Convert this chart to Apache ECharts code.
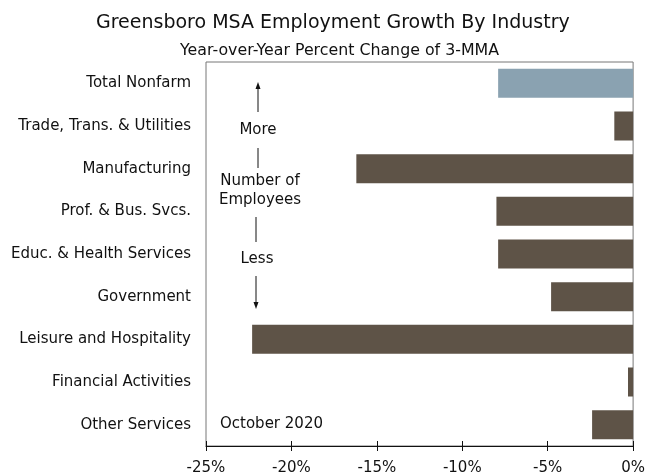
<!DOCTYPE html>
<html>
<head>
<meta charset="utf-8">
<script src="https://cdn.jsdelivr.net/npm/echarts@6/dist/echarts.min.js"></script>
<style>
  html, body { margin: 0; padding: 0; background: #fff; }
  #chart { width: 648px; height: 476px; }
</style>
</head>
<body>
<div id="chart"></div>
<script>
// Year-over-year percent change (3-month moving average), October 2020
const industries = [
  'Total Nonfarm',
  'Trade, Trans. & Utilities',
  'Manufacturing',
  'Prof. & Bus. Svcs.',
  'Educ. & Health Services',
  'Government',
  'Leisure and Hospitality',
  'Financial Activities',
  'Other Services'
];
const growth = [-7.9, -1.1, -16.2, -8.0, -7.9, -4.8, -22.3, -0.3, -2.4];
const xTicks = [-25, -20, -15, -10, -5, 0];

const TOTAL_COLOR = '#8aa2b1';
const INDUSTRY_COLOR = '#5e5347';
const FONT = 'DejaVu Sans';
const INK = '#111';

const chart = echarts.init(document.getElementById('chart'));

const barData = growth.map((v, i) => ({
  value: v,
  itemStyle: { color: i === 0 ? TOTAL_COLOR : INDUSTRY_COLOR }
}));

const valueAxisBase = {
  type: 'value',
  min: xTicks[0],
  max: xTicks[xTicks.length - 1],
  interval: 5,
  splitLine: { show: false }
};

function label(text, x, y, align) {
  return {
    type: 'text', x: x, y: y,
    style: {
      text: text, fontFamily: FONT, fontSize: 15, fill: INK,
      textAlign: align || 'center', textVerticalAlign: 'middle'
    }
  };
}
function vline(x, y1, y2) {
  return { type: 'line', shape: { x1: x, y1: y1, x2: x, y2: y2 }, style: { stroke: INK, lineWidth: 1 } };
}

chart.setOption({
  animation: false,
  backgroundColor: '#fff',
  title: [
    {
      text: 'Greensboro MSA Employment Growth By Industry',
      left: 91,
      top: 9,
      textStyle: { fontFamily: FONT, fontSize: 19, fontWeight: 'normal', color: INK }
    },
    {
      text: 'Year-over-Year Percent Change of 3-MMA',
      left: 175,
      top: 38,
      textStyle: { fontFamily: FONT, fontSize: 15.8, fontWeight: 'normal', color: INK }
    }
  ],
  grid: {
    left: 206, right: 12, top: 62, bottom: 30,
    show: true, borderColor: '#777', borderWidth: 1
  },
  xAxis: [
    Object.assign({}, valueAxisBase, {
      position: 'bottom',
      axisLine: { show: true, lineStyle: { color: INK, width: 1 } },
      axisTick: { show: true, length: 5, lineStyle: { color: INK } },
      axisLabel: {
        margin: 15,
        fontFamily: FONT, fontSize: 15, color: INK,
        formatter: v => v + '%'
      }
    }),
    // inner half of the tick marks, so each tick crosses the axis line
    Object.assign({}, valueAxisBase, {
      position: 'bottom',
      axisLine: { show: false },
      axisTick: { show: true, inside: true, length: 5, lineStyle: { color: INK } },
      axisLabel: { show: false }
    })
  ],
  yAxis: {
    type: 'category',
    data: industries,
    inverse: true,
    axisLine: { show: false },
    axisTick: { show: false },
    axisLabel: { margin: 15, fontFamily: FONT, fontSize: 15, color: INK }
  },
  series: [{
    type: 'bar',
    xAxisIndex: 0,
    data: barData,
    barWidth: '68%',
    itemStyle: { borderWidth: 0 }
  }],
  graphic: [
    // "More / Number of Employees / Less" guide
    vline(258, 86, 112),
    { type: 'polygon', shape: { points: [[258, 82], [255.5, 89], [260.5, 89]] }, style: { fill: INK } },
    label('More', 258, 130),
    vline(258, 148, 168),
    label('Number of', 260, 181),
    label('Employees', 260, 200),
    vline(256, 217, 242),
    label('Less', 257, 259),
    vline(256, 276, 304),
    { type: 'polygon', shape: { points: [[256, 309], [253.5, 302], [258.5, 302]] }, style: { fill: INK } },
    label('October 2020', 220, 424, 'left')
  ]
});
</script>
</body>
</html>
